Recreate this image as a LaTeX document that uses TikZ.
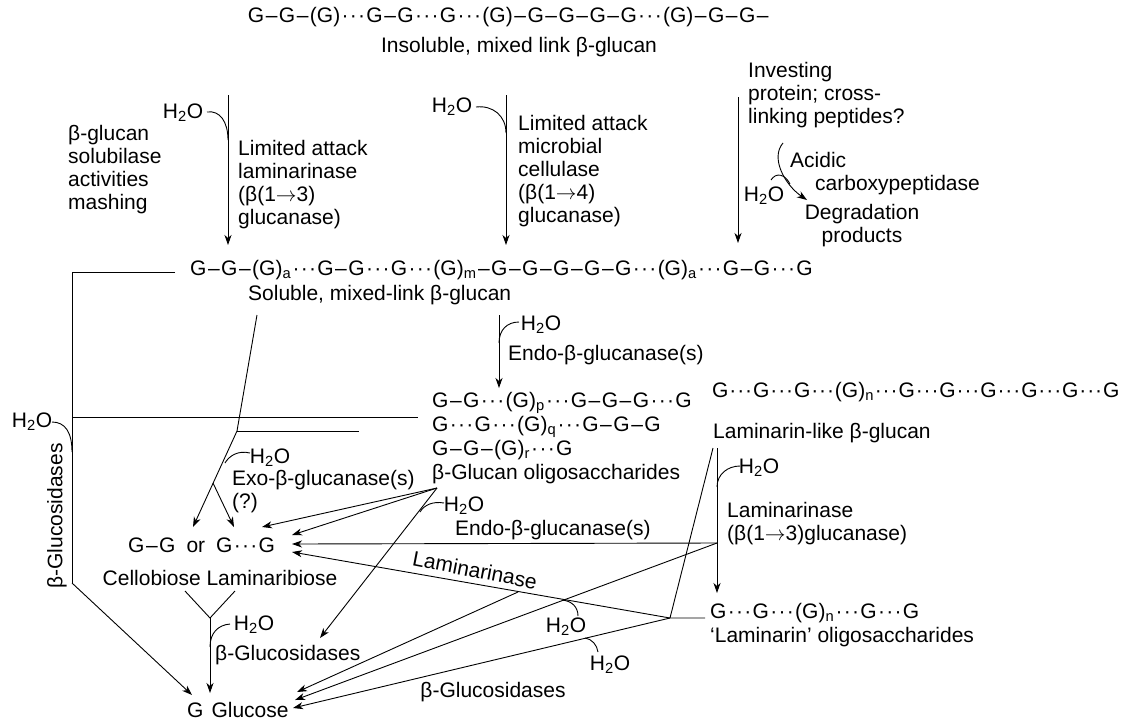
\documentclass[tikz,border=0pt]{standalone}
\usepackage{fontspec}
\setmainfont{Liberation Sans}
\usetikzlibrary{arrows.meta}
\newcommand\dd{\kern1.3pt·\kern1.3pt·\kern1.3pt·\kern1.3pt}
\newcommand\dn{\kern0.9pt·\kern0.9pt·\kern0.9pt·\kern0.9pt}
\newcommand\dsh{\kern1.5pt–\kern1.5pt}
\newcommand\ww{H\textsubscript{2}O}
\newcommand\sbs[1]{\textsubscript{#1}}
\newcommand\ra{\ensuremath{\rightarrow}}
\begin{document}
\begin{tikzpicture}[x=1pt,y=-1pt,
  every node/.style={inner sep=0pt, font=\fontsize{21}{23}\selectfont},
  ln/.style={line width=0.9pt, black},
  arr/.style={ln,-{Stealth[length=10pt,width=7pt,inset=3pt]}},
  hook/.style={line width=0.9pt, black},
  ml/.style={anchor=north west, align=left}]
\path[use as bounding box, fill=white] (0,0) rectangle (1132,721);

% ---------- texts ----------
\node (ch1) at (509,17) {G\dsh G\dsh (G)\dd G\dsh G\dd G\dd (G)\dsh G\dsh G\dsh G\dsh G\dd (G)\dsh G\dsh G\dsh};
\node (ins) at (519,47) {Insoluble, mixed link β-glucan};
\node (hA) at (183,113) {\ww};
\node[ml] (solub) at (68,125) {β-glucan\\solubilase\\activities\\mashing};
\node[ml] (lam1) at (238,140) {Limited attack\\laminarinase\\(β(1\ra3)\\glucanase)};
\node (hB) at (452,107) {\ww};
\node[ml] (cel) at (518,115) {Limited attack\\microbial\\cellulase\\(β(1\ra4)\\glucanase)};
\node[ml] (inv) at (748,62) {Investing\\protein; cross-\\linking peptides?};
\node[ml] (acid) at (790,152) {Acidic\\\hspace*{25pt}carboxypeptidase};
\node (hC) at (764,196) {\ww};
\node[align=center] (deg) at (862,226) {Degradation\\products};
\node[anchor=west] (ch2) at (190,270) {G\dsh G\dsh (G)\sbs{a}\dd G\dsh G\dd G\dd (G)\sbs{m}\dsh G\dsh G\dsh G\dsh G\dsh G\dd (G)\sbs{a}\dd G\dsh G\dd G};
\node[anchor=west] (sol) at (248,295) {Soluble, mixed-link β-glucan};
\node (hF) at (541,325) {\ww};
\node[anchor=west] (endo1) at (508,355) {Endo-β-glucanase(s)};
\node[ml, font=\fontsize{21}{24}\selectfont] (oligo) at (432,392) {G\dsh G\dd (G)\sbs{p}\dd G\dsh G\dsh G\dd G\\G\dd G\dd (G)\sbs{q}\dd G\dsh G\dsh G\\G\dsh G\dsh (G)\sbs{r}\dd G\\β-Glucan oligosaccharides};
\node[anchor=west] (ch3) at (712,392) {G\dn G\dn G\dn (G)\sbs{n}\dn G\dn G\dn G\dn G\dn G\dn G};
\node[anchor=west] (lamlike) at (713,433) {Laminarin-like β-glucan};
\node (hD) at (32,422) {\ww};
\node[rotate=90] (bgl1) at (57,516) {β-Glucosidases};
\node (hE) at (270,458) {\ww};
\node[ml] (exo) at (232,470) {Exo-β-glucanase(s)\\(?)};
\node (hG) at (464,506) {\ww};
\node[anchor=west] (endo2) at (455,530) {Endo-β-glucanase(s)};
\node (hH) at (759,468) {\ww};
\node[ml] (laminase) at (727,502) {Laminarinase\\(β(1\ra3)glucanase)};
\node[anchor=west] (gg) at (128,545) {G\dsh G\hspace{11pt}or\hspace{11pt}G\dd G};
\node (cb) at (220,578) {Cellobiose Laminaribiose};
\node[rotate=-11] (lamr) at (475,570) {Laminarinase};
\node[anchor=west] (ch4) at (710,613) {G\dd G\dd (G)\sbs{n}\dd G\dd G};
\node[anchor=west] (lamol) at (710,637) {‘Laminarin’ oligosaccharides};
\node (hI) at (254,625) {\ww};
\node[anchor=west] (bgl2) at (215,655) {β-Glucosidases};
\node (hJ) at (566,627) {\ww};
\node (hK) at (610,665) {\ww};
\node (bgl3) at (493,692) {β-Glucosidases};
\node[anchor=west] (glu) at (187,710) {G\hspace{8pt}Glucose};

% ---------- coordinates ----------
\coordinate (a1s) at (228,95);   \coordinate (a1e) at (228,245);
\coordinate (a2s) at (506,95);   \coordinate (a2e) at (506,245);
\coordinate (a3s) at (738,97);   \coordinate (a3e) at (738,243);
\coordinate (cps) at (783,143);  \coordinate (cpe) at (807,200);
\coordinate (bk1) at (175,272);  \coordinate (bk2) at (72,272);
\coordinate (bk3) at (72,583);   \coordinate (gluL) at (192,695);
\coordinate (hz1) at (72,417);   \coordinate (hz2) at (418,417);
\coordinate (hs1) at (237,431);  \coordinate (hs2) at (359,431);
\coordinate (sd0) at (257,315);  \coordinate (exoA) at (193,527);
\coordinate (exoB0) at (213,483);\coordinate (exoB) at (234,527);
\coordinate (ol) at (437,488);
\coordinate (ggA) at (262,527);  \coordinate (ggB) at (292,535);
\coordinate (ggC) at (292,544);  \coordinate (ggD) at (292,552);
\coordinate (bg2t) at (320,638);
\coordinate (en1s) at (499,315); \coordinate (en1e) at (499,388);
\coordinate (lj) at (717,543);   \coordinate (lv0) at (717,448);
\coordinate (lve) at (717,593);  \coordinate (st0) at (713,448);
\coordinate (oj) at (670,618);   \coordinate (ojs) at (705,618);
\coordinate (lb) at (518,592);
\coordinate (gl1) at (297,692);  \coordinate (gl2) at (295,700);
\coordinate (gl3) at (293,708);
\coordinate (y1) at (185,591);   \coordinate (y2) at (235,591);
\coordinate (yj) at (210,618);   \coordinate (ye) at (210,693);

% ---------- connectors ----------
\draw[arr] (a1s) -- (a1e);
\draw[hook] (207,112) .. controls (220,110) and (228,122) .. (228,140);
\draw[arr] (a2s) -- (a2e);
\draw[hook] (476,107) .. controls (493,105) and (506,116) .. (506,133);
\draw[arr] (a3s) -- (a3e);
\draw[arr] (cps) .. controls (770,158) and (785,185) .. (cpe);
\draw[hook] (771,180) .. controls (776,172) and (785,174) .. (790,184);

\draw[ln] (bk1) -- (bk2) -- (bk3);
\draw[arr] (bk3) -- (gluL);
\draw[hook] (52,422) .. controls (65,422) and (72,432) .. (72,452);
\draw[ln] (hz1) -- (hz2);
\draw[ln] (hs1) -- (hs2);
\draw[arr] (sd0) -- (hs1) -- (exoA);
\draw[arr] (exoB0) -- (exoB);
\draw[hook] (250,453) .. controls (238,450) and (229,456) .. (225,463);

\draw[arr] (en1s) -- (en1e);
\draw[hook] (519,322) .. controls (507,322) and (499,330) .. (499,343);

\draw[arr] (ol) -- (ggA);
\draw[arr] (ol) -- (ggB);
\draw[arr] (ol) -- (bg2t);
\draw[hook] (444,503) .. controls (433,501) and (424,505) .. (420,512);

\draw[arr] (lv0) -- (lve);
\draw[hook] (740,466) .. controls (728,466) and (717,474) .. (717,487);
\draw[arr] (lj) -- (ggC);
\draw[ln] (st0) -- (oj) -- (ojs);
\draw[arr] (oj) -- (ggD);
\draw[arr] (lb) -- (gl1);
\draw[arr] (lj) -- (gl2);
\draw[arr] (oj) -- (gl3);
\draw[hook] (562,600) .. controls (572,601) and (578,607) .. (578,616);
\draw[hook] (585,638) .. controls (592,639) and (597,645) .. (598,652);

\draw[ln] (y1) -- (yj) -- (y2);
\draw[arr] (yj) -- (ye);
\draw[hook] (230,624) .. controls (218,625) and (210,633) .. (210,647);
\end{tikzpicture}
\end{document}
